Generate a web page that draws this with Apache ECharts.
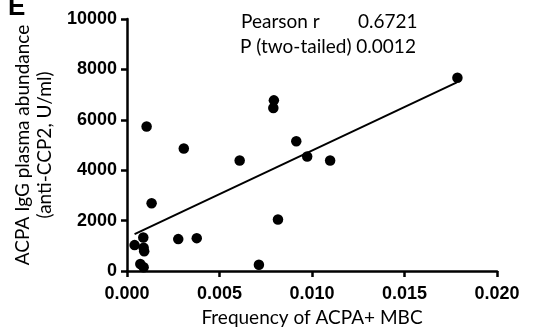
<!DOCTYPE html>
<html>
<head>
<meta charset="utf-8">
<script src="https://cdn.jsdelivr.net/npm/echarts@6/dist/echarts.min.js"></script>
<style>
  html, body { margin: 0; padding: 0; background: #fff; }
  #chart { width: 533px; height: 329px; }
</style>
</head>
<body>
<div id="chart"></div>
<script>
// Frequency of ACPA+ memory B cells vs. plasma anti-CCP2 IgG
const mbcFrequency = [
  0.01786, 0.00794, 0.00791, 0.00106, 0.00307, 0.00609, 0.00915, 0.00974,
  0.01098, 0.00133, 0.00816, 0.00277, 0.00377, 0.00088, 0.00041, 0.00090,
  0.00093, 0.00072, 0.00090, 0.00713
];
const antiCCP2 = [
  7668, 6771, 6470, 5731, 4862, 4387, 5151, 4545,
  4387, 2688, 2042, 1265, 1304, 1331, 1028, 922,
  779, 277, 146, 249
];
// Linear regression line end points
const fitX = [0.00041, 0.01783];
const fitY = [1462, 7482];

const xTicks = [0, 0.005, 0.010, 0.015, 0.020];
const yTicks = [0, 2000, 4000, 6000, 8000, 10000];

const statLabels = ['Pearson r', 'P (two-tailed)'];
const statValues = ['0.6721', '0.0012'];

const points = mbcFrequency.map((x, i) => [x, antiCCP2[i]]);
const fitLine = fitX.map((x, i) => [x, fitY[i]]);

const tickFont = { fontFamily: 'Liberation Sans, Arial, sans-serif', fontWeight: 'bold', fontSize: 18, color: '#000' };
const titleFont = 'Lato, sans-serif';

const chart = echarts.init(document.getElementById('chart'), null, { renderer: 'canvas' });
chart.setOption({
  animation: false,
  backgroundColor: '#fff',
  grid: { left: 127, right: 36, top: 19, bottom: 58, containLabel: false, outerBoundsMode: 'none' },
  xAxis: {
    type: 'value',
    min: xTicks[0], max: xTicks[xTicks.length - 1], interval: 0.005,
    splitLine: { show: false },
    axisLine: { show: true, onZero: false, lineStyle: { color: '#000', width: 2.5 } },
    axisTick: { show: true, inside: false, length: 6, lineStyle: { color: '#000', width: 2.5 } },
    axisLabel: { ...tickFont, margin: 14, formatter: v => v.toFixed(3) },
    name: 'Frequency of ACPA+ MBC',
    nameLocation: 'middle',
    nameGap: 35,
    nameTextStyle: { fontFamily: titleFont, fontSize: 19, color: '#000' }
  },
  yAxis: {
    type: 'value',
    min: yTicks[0], max: yTicks[yTicks.length - 1], interval: 2000,
    splitLine: { show: false },
    axisLine: { show: true, onZero: false, lineStyle: { color: '#000', width: 2.5 } },
    axisTick: { show: true, inside: false, length: 6, lineStyle: { color: '#000', width: 2.5 } },
    axisLabel: { ...tickFont, margin: 10, formatter: v => String(v) },
    name: 'ACPA IgG plasma abundance\n(anti-CCP2, U/ml)',
    nameLocation: 'middle',
    nameRotate: 90,
    nameGap: 64,
    nameTextStyle: { fontFamily: titleFont, fontSize: 19, color: '#000', lineHeight: 22 }
  },
  series: [
    {
      type: 'line',
      data: fitLine,
      symbol: 'none',
      lineStyle: { color: '#000', width: 2 },
      z: 2
    },
    {
      type: 'scatter',
      data: points,
      symbol: 'circle',
      symbolSize: 10.5,
      itemStyle: { color: '#000', opacity: 1 },
      z: 3
    }
  ],
  graphic: [
    { type: 'text', left: 8, top: -5, style: { text: 'E', fontFamily: 'Liberation Sans, Arial, sans-serif', fontWeight: 'bold', fontSize: 26, fill: '#000' } },
    { type: 'text', left: 241, top: 12, style: { text: statLabels[0], fontFamily: titleFont, fontSize: 19, fill: '#000' } },
    { type: 'text', left: 358, top: 12, style: { text: statValues[0], fontFamily: titleFont, fontSize: 19, fill: '#000' } },
    { type: 'text', left: 240, top: 37, style: { text: statLabels[1] + ' ' + statValues[1], fontFamily: titleFont, fontSize: 19, fill: '#000' } }
  ]
});
</script>
</body>
</html>
